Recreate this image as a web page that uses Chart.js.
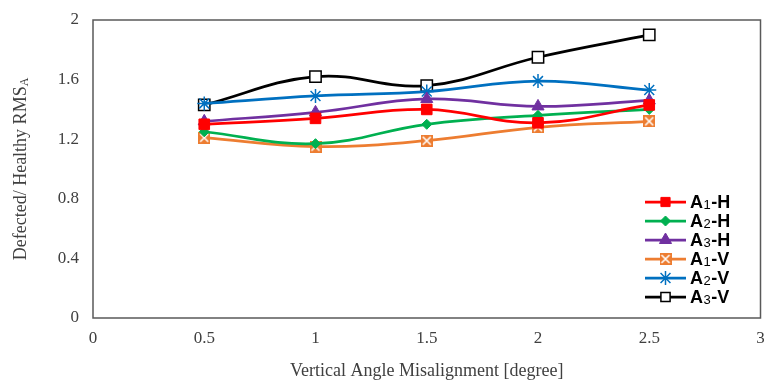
<!DOCTYPE html>
<html>
<head>
<meta charset="utf-8">
<script src="https://cdn.jsdelivr.net/npm/chart.js@4"></script>
<style>
html,body{margin:0;padding:0;background:#fff;}
#wrap{width:764px;height:386px;position:relative;overflow:hidden;}
</style>
</head>
<body>
<div id="wrap"><canvas id="c" width="770" height="386"></canvas></div>
<script>
const angles = [0.5, 1, 1.5, 2, 2.5];
const seriesNames = ["A\u2081-H", "A\u2082-H", "A\u2083-H", "A\u2081-V", "A\u2082-V", "A\u2083-V"];
const a1h = [1.30, 1.34, 1.40, 1.31, 1.43];
const a2h = [1.25, 1.17, 1.30, 1.36, 1.40];
const a3h = [1.32, 1.38, 1.47, 1.42, 1.46];
const a1v = [1.21, 1.15, 1.19, 1.28, 1.32];
const a2v = [1.44, 1.49, 1.52, 1.59, 1.53];
const a3v = [1.43, 1.62, 1.56, 1.75, 1.90];
const xTicks = [0, 0.5, 1, 1.5, 2, 2.5, 3];
const yTicks = [0, 0.4, 0.8, 1.2, 1.6, 2];

function boxX(color, s){
  const c = document.createElement('canvas');
  c.width = s; c.height = s;
  const g = c.getContext('2d');
  g.fillStyle = color; g.fillRect(0,0,s,s);
  g.strokeStyle = '#fff'; g.lineWidth = 1.6;
  g.beginPath(); g.moveTo(2,2); g.lineTo(s-2,s-2); g.moveTo(s-2,2); g.lineTo(2,s-2); g.stroke();
  return c;
}
const orangeMarker = boxX('#ED7D31', 12);

function pts(arr){ return angles.map((x,i)=>({x:x, y:arr[i]})); }

const styles = [
  {color:'#FF0000', pointStyle:'rect', radius:7.5, bg:'#FF0000', border:'#FF0000', bw:1},
  {color:'#00B050', pointStyle:'rectRot', radius:5, bg:'#00B050', border:'#00B050', bw:1},
  {color:'#7030A0', pointStyle:'triangle', radius:7, bg:'#7030A0', border:'#7030A0', bw:1},
  {color:'#ED7D31', pointStyle:orangeMarker, radius:6, bg:'#ED7D31', border:'#ED7D31', bw:1},
  {color:'#0070C0', pointStyle:'star', radius:7, bg:'#0070C0', border:'#0070C0', bw:1.5},
  {color:'#000000', pointStyle:'rect', radius:8, bg:'#FFFFFF', border:'#000000', bw:1.5}
];
const allData = [a1h, a2h, a3h, a1v, a2v, a3v];

const datasets = allData.map((d,i)=>({
  label: seriesNames[i],
  data: pts(d),
  borderColor: styles[i].color,
  backgroundColor: styles[i].bg,
  borderWidth: 2.75,
  tension: 0.4,
  pointStyle: styles[i].pointStyle,
  pointRadius: styles[i].radius,
  pointBackgroundColor: styles[i].bg,
  pointBorderColor: styles[i].border,
  pointBorderWidth: styles[i].bw,
  fill: false
}));

const fmt = v => Number(Number(v).toFixed(1)).toString();

const decor = {
  id:'decor',
  afterDatasetsDraw(chart){
    const ctx = chart.ctx, a = chart.chartArea;
    ctx.save();
    ctx.strokeStyle = '#595959'; ctx.lineWidth = 1.5;
    ctx.strokeRect(a.left, a.top, a.right - a.left, a.bottom - a.top);
    // legend
    const lx = 645, tx = 690;
    let ly = 202;
    datasets.forEach((ds,i)=>{
      ctx.strokeStyle = ds.borderColor; ctx.lineWidth = 2.75;
      ctx.beginPath(); ctx.moveTo(lx, ly); ctx.lineTo(lx+41, ly); ctx.stroke();
      ctx.fillStyle = ds.pointBackgroundColor; ctx.strokeStyle = ds.pointBorderColor; ctx.lineWidth = ds.pointBorderWidth;
      const r = ds.pointStyle === 'rect' ? 6.5 : ds.pointRadius;
      Chart.helpers.drawPoint(ctx, {pointStyle: ds.pointStyle, radius: r, rotation:0, borderWidth: ds.pointBorderWidth}, lx+20.5, ly);
      const name = ds.label;
      const main = name.charAt(0);
      const sub = {'\u2081':'1','\u2082':'2','\u2083':'3'}[name.charAt(1)];
      const rest = name.slice(2);
      ctx.fillStyle = '#000'; ctx.textBaseline = 'middle'; ctx.textAlign = 'left';
      ctx.font = 'bold 18px "Liberation Sans", Arial, sans-serif';
      ctx.fillText(main, tx, ly+1);
      let w = ctx.measureText(main).width;
      ctx.font = '13px "Liberation Sans", Arial, sans-serif';
      ctx.fillText(sub, tx + w + 0.5, ly + 3);
      w += ctx.measureText(sub).width + 1;
      ctx.font = 'bold 18px "Liberation Sans", Arial, sans-serif';
      ctx.fillText(rest, tx + w, ly+1);
      ly += 19;
    });
    // y axis title with subscript
    ctx.translate(21, (a.top + a.bottom)/2);
    ctx.rotate(-Math.PI/2);
    ctx.fillStyle = '#404040';
    ctx.textBaseline = 'middle';
    const t1 = 'Defected/ Healthy RMS';
    ctx.font = '18px "Liberation Serif", "Times New Roman", serif';
    const w1 = ctx.measureText(t1).width;
    ctx.font = '12px "Liberation Serif", "Times New Roman", serif';
    const w2 = ctx.measureText('A').width;
    const start = -(w1 + w2)/2;
    ctx.textAlign = 'left';
    ctx.font = '18px "Liberation Serif", "Times New Roman", serif';
    ctx.fillText(t1, start, 0);
    ctx.font = '12px "Liberation Serif", "Times New Roman", serif';
    ctx.fillText('A', start + w1, 4);
    ctx.restore();
  }
};

new Chart(document.getElementById('c'), {
  type:'line',
  data:{datasets},
  options:{
    responsive:false,
    animation:false,
    layout:{padding:{top:20, right:2, left:0, bottom:0}},
    plugins:{legend:{display:false}, tooltip:{enabled:false}},
    scales:{
      x:{
        type:'linear', min:0, max:3,
        afterBuildTicks(s){ s.ticks = xTicks.map(v=>({value:v})); },
        afterFit(s){ s.height = 68; s.paddingRight = 0; s.paddingLeft = 0; },
        grid:{display:false, drawTicks:false},
        border:{display:false},
        ticks:{color:'#404040', padding:10, maxRotation:0, autoSkip:false,
          font:{family:'"Liberation Serif", "Times New Roman", serif', size:17},
          callback:v=>fmt(v)},
        title:{display:true, text:'Vertical Angle Misalignment [degree]', color:'#404040',
          font:{family:'"Liberation Serif", "Times New Roman", serif', size:18}, padding:{top:6}}
      },
      y:{
        type:'linear', min:0, max:2,
        afterBuildTicks(s){ s.ticks = yTicks.map(v=>({value:v})); },
        afterFit(s){ s.width = 93; s.paddingTop = 0; s.paddingBottom = 0; },
        grid:{display:false, drawTicks:false},
        border:{display:false},
        ticks:{color:'#404040', padding:14, autoSkip:false,
          font:{family:'"Liberation Serif", "Times New Roman", serif', size:17},
          callback:v=>fmt(v)}
      }
    }
  },
  plugins:[decor]
});
</script>
</body>
</html>
